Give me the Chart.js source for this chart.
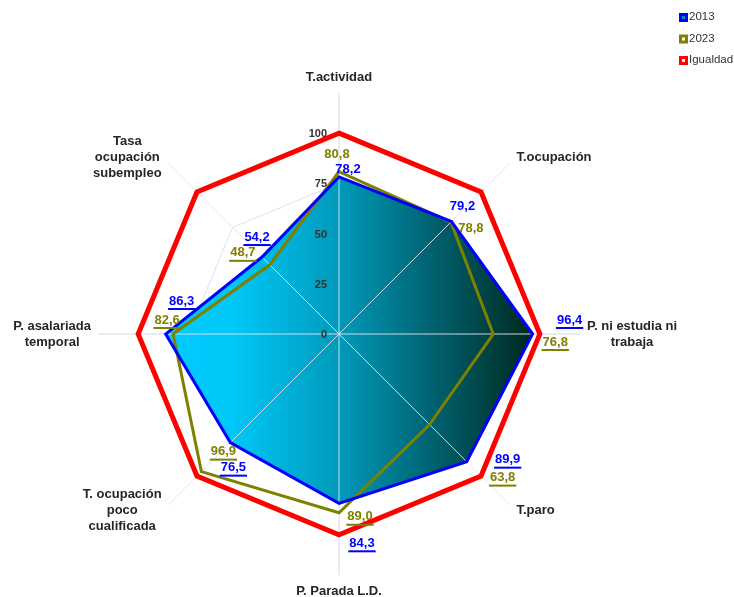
<!DOCTYPE html>
<html><head><meta charset="utf-8">
<script src="https://cdn.jsdelivr.net/npm/chart.js@4/dist/chart.umd.min.js"></script>
<style>html,body{margin:0;padding:0;background:#fff;}#wrap{width:734px;height:597px;position:relative;}</style>
</head><body><div id="wrap"><canvas id="c" width="734" height="597"></canvas></div>
<script>
// ---- data ----
const categories = [["T.actividad"],["T.ocupación"],["P. ni estudia ni","trabaja"],["T.paro"],["P. Parada L.D."],["T. ocupación","poco","cualificada"],["P. asalariada","temporal"],["Tasa","ocupación","subempleo"]];
const values2013 = [78.2,79.2,96.4,89.9,84.3,76.5,86.3,54.2];
const values2023 = [80.8,78.8,76.8,63.8,89.0,96.9,82.6,48.7];
const valuesIgualdad = [100,100,100,100,100,100,100,100];
const tickValues = [0,25,50,75,100];
const seriesNames = ["2013","2023","Igualdad"];

// ---- styling ----
const COL2013 = '#0000ff', COL2023 = '#808000', COLIG = '#ff0000';
const FONT = '"Liberation Sans", Arial, sans-serif';
// pixel offsets of value labels relative to their points
const off2013 = [[9,-8],[11,-15],[37,-14],[41,-2],[23,40],[3,25],[16,-33],[-5,-20]];
const off2023 = [[-2,-17],[20,6],[62,8],[73,53],[21,4],[22,-20],[-6,-14],[-27,-12]];
const underline2013 = [false,false,true,true,true,true,true,true];
const underline2023 = [false,false,true,true,true,true,true,true];

function fmt(v){ return v.toFixed(1).replace('.', ','); }

function fillGradient(ctx){
  const chart = ctx.chart;
  const s = chart.scales.r;
  if (!chart.chartArea || !s || !s.xCenter) return '#00ccff';
  const r = s.getDistanceFromCenterForValue(100);
  const g = chart.ctx.createLinearGradient(s.xCenter - r*0.86, 0, s.xCenter + r*0.97, 0);
  g.addColorStop(0, '#00ccff');
  g.addColorStop(0.18, '#00c8f8');
  g.addColorStop(0.48, '#0098b8');
  g.addColorStop(0.75, '#005c68');
  g.addColorStop(1, '#00281c');
  return g;
}

const overlay = {
  id: 'overlay',
  afterDatasetDraw(chart, args){
    if (args.index !== 3) return;
    const s = chart.scales.r, c = chart.ctx;
    c.save();
    c.strokeStyle = 'rgba(228,228,244,0.9)';
    c.lineWidth = 1;
    for (let i = 0; i < categories.length; i++){
      const p = s.getPointPositionForValue(i, s.max);
      c.beginPath(); c.moveTo(s.xCenter, s.yCenter); c.lineTo(p.x, p.y); c.stroke();
    }
    c.restore();
  },
  afterDatasetsDraw(chart){
    const s = chart.scales.r, c = chart.ctx;
    c.save();
    // tick labels
    c.font = 'bold 11px ' + FONT;
    c.fillStyle = '#333';
    c.textAlign = 'right'; c.textBaseline = 'middle';
    tickValues.forEach(v => {
      const y = s.yCenter - s.getDistanceFromCenterForValue(v);
      c.fillText(String(v), s.xCenter - 12, y + 1);
    });
    // point labels
    c.font = 'bold 13px ' + FONT;
    c.fillStyle = '#262626';
    c.textAlign = 'center';
    const lh = 16;
    categories.forEach((lines, i) => {
      const p = s.getPointPosition(i, s.drawingArea);
      const cs = Math.cos(p.angle), sn = Math.sin(p.angle);
      const w = Math.max(...lines.map(t => c.measureText(t).width));
      const h = lines.length * lh;
      let x = p.x, y = p.y;
      if (Math.abs(cs) > 0.1) x = p.x + Math.sign(cs) * (w/2 + 7);
      if (Math.abs(cs) < 0.1) y = p.y + Math.sign(sn) * (h/2 + 8);
      else if (Math.abs(sn) > 0.1) y = p.y + Math.sign(sn) * 6;
      lines.forEach((t, k) => c.fillText(t, x, y - (lines.length-1)/2*lh + k*lh));
    });
    // value labels
    c.font = 'bold 13px ' + FONT;
    const drawVals = (vals, offs, ul, col) => {
      c.fillStyle = col; c.strokeStyle = col;
      vals.forEach((v, i) => {
        const p = s.getPointPositionForValue(i, v);
        const x = p.x + offs[i][0], y = p.y + offs[i][1];
        const t = fmt(v);
        c.fillText(t, x, y);
        if (ul[i]){
          const w = c.measureText(t).width;
          c.fillRect(x - w/2 - 1, y + 7, w + 2, 2);
        }
      });
    };
    drawVals(values2023, off2023, underline2023, COL2023);
    drawVals(values2013, off2013, underline2013, COL2013);
    // legend
    const cols = [COL2013, COL2023, COLIG];
    const inner = ['#008fb0', '#ffffff', '#ffffff'];
    c.font = '11.5px ' + FONT;
    c.textAlign = 'left'; c.textBaseline = 'middle';
    seriesNames.forEach((n, i) => {
      const y = 17 + i * 21.5;
      c.fillStyle = cols[i]; c.fillRect(679, y - 4, 9, 9);
      c.fillStyle = inner[i]; c.fillRect(682, y - 1, 3, 3);
      c.fillStyle = '#333'; c.fillText(n, 689, y);
    });
    c.restore();
  }
};

new Chart(document.getElementById('c'), {
  type: 'radar',
  data: {
    labels: categories,
    datasets: [
      { label: seriesNames[0], data: values2013, borderColor: COL2013, borderWidth: 3, fill: false, pointRadius: 0, backgroundColor: 'transparent' },
      { label: seriesNames[1], data: values2023, borderColor: COL2023, borderWidth: 3, fill: false, pointRadius: 0, backgroundColor: 'transparent' },
      { label: seriesNames[2], data: valuesIgualdad, borderColor: COLIG, borderWidth: 5, fill: false, pointRadius: 0, backgroundColor: 'transparent' },
      { label: 'fill2013', data: values2013, borderWidth: 0, borderColor: 'transparent', fill: true, pointRadius: 0, backgroundColor: fillGradient }
    ]
  },
  options: {
    responsive: false, animation: false, devicePixelRatio: 1,
    layout: { padding: { top: 93, bottom: 22, left: 98, right: 154 } },
    plugins: { legend: { display: false }, tooltip: { enabled: false } },
    elements: { line: { tension: 0, borderJoinStyle: 'miter' } },
    scales: {
      r: {
        min: 0, max: 120,
        ticks: { display: false, stepSize: 25 },
        pointLabels: { display: false },
        grid: { circular: false, lineWidth: 1, color: (ctx) => (ctx.tick && ctx.tick.value > 100) ? 'rgba(0,0,0,0)' : '#dedef0' },
        angleLines: { display: true, color: '#dedef0', lineWidth: 1 }
      }
    }
  },
  plugins: [overlay]
});
</script>
</body></html>
